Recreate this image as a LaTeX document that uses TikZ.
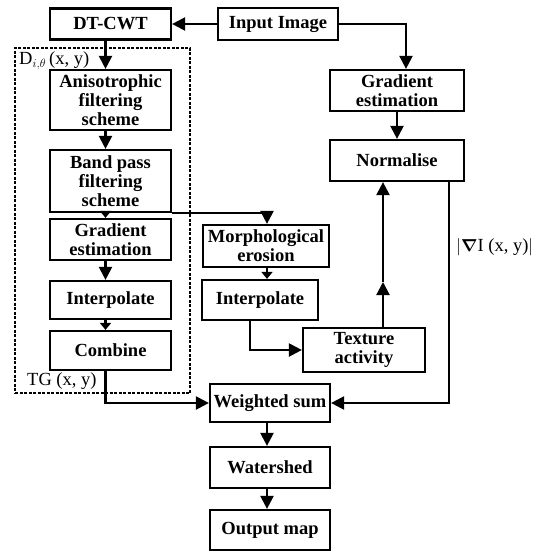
\documentclass[tikz,border=0pt]{standalone}
\usepackage{fontspec}
\setmainfont{Liberation Serif}
\usepackage{amsmath, amssymb}
\usetikzlibrary{arrows.meta, positioning, calc}

\begin{document}
\begin{tikzpicture}[x=1pt, y=-1pt,
	bloc/.style={draw, line width=2.2pt, align=center, inner sep=1pt,
		font=\fontsize{18.5}{19}\selectfont\bfseries},
	fl/.style={line width=2.2pt, -{Triangle[length=13pt, width=13pt]}},
	flc/.style={line width=2.2pt, -{Triangle[length=7pt, width=11pt]}},
	lab/.style={font=\fontsize{18.5}{20}\selectfont, inner sep=0pt}]
	\useasboundingbox (0,0) rectangle (536,552);
	% cadre pointille
	\node[draw, line width=1.4pt, dash pattern=on 3pt off 1.5pt, minimum width=175pt,
		minimum height=345pt, inner sep=0pt] (grp) at (102.5,220.5) {};
	\node[lab, anchor=west] (dlab) at (19,61) {D$_{i,\theta}$\,(x, y)};
	\node[lab, anchor=west] (tg) at (27,381) {TG (x, y)};
	% colonne gauche
	\node[bloc, minimum width=121pt, minimum height=31pt] (dtcwt) at (110.5,24) {DT-CWT};
	\node[bloc, minimum width=121pt, minimum height=60pt] (aniso) at (110.5,100) {Anisotrophic\\filtering\\scheme};
	\node[bloc, minimum width=121pt, minimum height=62pt] (bandp) at (110.5,181) {Band pass\\filtering\\scheme};
	\node[bloc, minimum width=121pt, minimum height=41pt] (grad1) at (110.5,239.5) {Gradient\\estimation};
	\node[bloc, minimum width=121pt, minimum height=38pt] (interp1) at (110.5,300) {Interpolate};
	\node[bloc, minimum width=121pt, minimum height=39pt] (comb) at (110.5,350.5) {Combine};
	% colonne milieu
	\node[bloc, minimum width=120pt, minimum height=32pt] (input) at (278,24) {Input Image};
	\node[bloc, minimum width=126pt, minimum height=42pt] (morph) at (266,246) {Morphological\\erosion};
	\node[bloc, minimum width=116pt, minimum height=40pt] (interp2) at (260,300) {Interpolate};
	\node[bloc, minimum width=122pt, minimum height=44pt] (texture) at (364,350) {Texture\\activity};
	\node[bloc, minimum width=120pt, minimum height=38pt] (wsum) at (270,403) {Weighted sum};
	\node[bloc, minimum width=120pt, minimum height=41pt] (water) at (270,467.5) {Watershed};
	\node[bloc, minimum width=120pt, minimum height=40pt] (output) at (270,530) {Output map};
	% colonne droite
	\node[bloc, minimum width=134pt, minimum height=41pt] (grad2) at (397,90.5) {Gradient\\estimation};
	\node[bloc, minimum width=134pt, minimum height=41pt] (norm) at (397,160.5) {Normalise};
	\node[lab, anchor=west] (gradlab) at (456,247) {$|\boldsymbol{\nabla}$I (x, y)$|$};
	% fleches
	\draw[fl] (input.west) -- (dtcwt.east);
	\draw[fl] (input.east) -| ([xshift=9pt]grad2.north);
	\draw[fl] (grad2) -- (norm);
	\draw[fl] ([xshift=-5pt]dtcwt.south) -- ([xshift=-5pt]aniso.north);
	\draw[fl] ([xshift=-5pt]aniso.south) -- ([xshift=-5pt]bandp.north);
	\draw[flc] ([xshift=-5pt]bandp.south) -- ([xshift=-5pt]grad1.north);
	\draw[fl] ([xshift=-5pt]grad1.south) -- ([xshift=-5pt]interp1.north);
	\draw[flc] ([xshift=-5pt]interp1.south) -- ([xshift=-5pt]comb.north);
	\draw[fl] (bandp.south east) -| ([xshift=1pt]morph.north);
	\draw[flc] ([xshift=1pt]morph.south) -- ([xshift=1pt]morph.south |- interp2.north);
	\draw[fl] ([xshift=-10pt]interp2.south) |- (texture.west);
	\coordinate (tmid) at (383,282);
	\draw[fl] ([xshift=19pt]texture.north) -- (tmid);
	\draw[fl] (tmid) -- (tmid |- norm.south);
	\draw[fl] ([xshift=52pt]norm.south) |- (wsum.east);
	\draw[fl] ([xshift=-5pt]comb.south) |- (wsum.west);
	\draw[fl] ([xshift=-3pt]wsum.south) -- ([xshift=-3pt]water.north);
	\draw[fl] ([xshift=-3pt]water.south) -- ([xshift=-3pt]output.north);
\end{tikzpicture}
\end{document}
